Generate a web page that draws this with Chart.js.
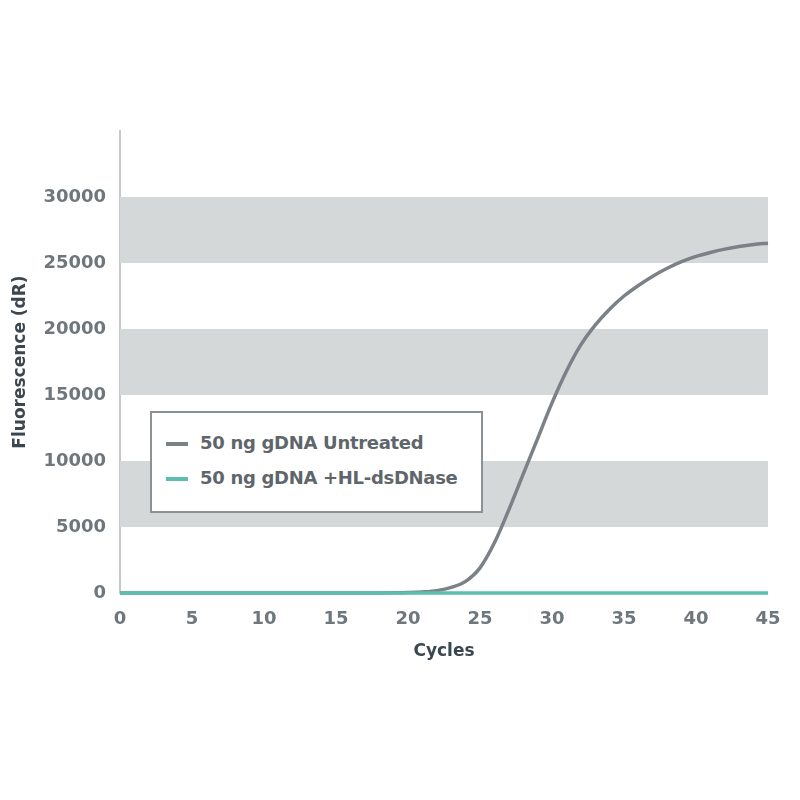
<!DOCTYPE html>
<html>
<head>
<meta charset="utf-8">
<script src="https://cdn.jsdelivr.net/npm/chart.js@4"></script>
<style>
    html, body { margin: 0; padding: 0; background: #ffffff; }
    #wrap { position: relative; width: 800px; height: 800px; }
    #legenda {
        position: absolute; left: 150px; top: 411px; width: 329px; height: 98px;
        border: 2px solid #8c9195; background: #ffffff; box-sizing: content-box;
        font-family: "DejaVu Sans", sans-serif; font-weight: bold; font-size: 18px;
        color: #5f666b; letter-spacing: -0.3px;
    }
    .voce { position: absolute; left: 14px; height: 20px; line-height: 20px; white-space: nowrap; }
    .voce span.campione { display: inline-block; width: 22px; height: 4px; vertical-align: middle; margin-right: 12px; }
</style>
</head>
<body>
<div id="wrap">
    <canvas id="myChart" width="800" height="800"></canvas>
    <div id="legenda"></div>
</div>
<script>
"use strict"

// dati
const cicli = [];
for (let i = 0; i <= 45; i++) cicli.push(i);

const untreated = [
    0, 0, 0, 0, 0, 0, 0, 0, 0, 0,
    0, 0, 0, 0, 0, 0, 0, 0, 0, 10,
    30, 80, 180, 420, 880, 1900, 3800, 6300, 9000, 11700,
    14400, 16800, 18800, 20300, 21500, 22500, 23300, 24000, 24600, 25100,
    25500, 25800, 26050, 26250, 26400, 26500
];
const trattato = [
    0, 0, 0, 0, 0, 0, 0, 0, 0, 0,
    0, 0, 0, 0, 0, 0, 0, 0, 0, 0,
    0, 0, 0, 0, 0, 0, 0, 0, 0, 0,
    0, 0, 0, 0, 0, 0, 0, 0, 0, 0,
    0, 0, 0, 0, 0, 0
];
const etichette = ["50 ng gDNA Untreated", "50 ng gDNA +HL-dsDNase"];
const colori = ["#7b8187", "#5cbfae"];
const yTicks = [0, 5000, 10000, 15000, 20000, 25000, 30000];
const xTicks = [0, 5, 10, 15, 20, 25, 30, 35, 40, 45];
const bande = [[5000, 10000], [15000, 20000], [25000, 30000]];

// bande grigie di sfondo
const pluginBande = {
    id: "bande",
    beforeDatasetsDraw(chart) {
        const ctx = chart.ctx;
        const area = chart.chartArea;
        const y = chart.scales.y;
        ctx.save();
        ctx.fillStyle = "#d5d8d9";
        bande.forEach(function (b) {
            const top = y.getPixelForValue(b[1]);
            const bot = y.getPixelForValue(b[0]);
            ctx.fillRect(area.left, top, area.right - area.left, bot - top);
        });
        ctx.restore();
    }
};

const fontTick = { family: "DejaVu Sans", weight: "bold", size: 18 };
const fontTitolo = { family: "DejaVu Sans", weight: "bold", size: 17 };

new Chart(document.getElementById("myChart"), {
    type: "line",
    data: {
        labels: cicli,
        datasets: [{
            label: etichette[0],
            data: untreated,
            borderColor: colori[0],
            borderWidth: 3.5,
            pointRadius: 0,
            cubicInterpolationMode: "monotone",
            clip: 6,
            order: 1
        },
        {
            label: etichette[1],
            data: trattato,
            borderColor: colori[1],
            borderWidth: 3.5,
            pointRadius: 0,
            clip: 6,
            order: 0
        }]
    },
    options: {
        responsive: false,
        animation: false,
        layout: { padding: { top: 131, left: 6, right: 32, bottom: 134 } },
        plugins: { legend: { display: false }, tooltip: { enabled: false } },
        scales: {
            x: {
                type: "linear",
                min: 0,
                max: 45,
                afterBuildTicks(s) { s.ticks = xTicks.map(v => ({ value: v })); },
                afterFit(s) { s.height = 73; },
                grid: { display: false },
                border: { display: false },
                ticks: { color: "#6f777c", font: fontTick, padding: 8 },
                title: { display: true, text: "Cycles", color: "#3a4650", font: fontTitolo, padding: { top: 10 } }
            },
            y: {
                min: 0,
                max: 35000,
                afterBuildTicks(s) { s.ticks = yTicks.map(v => ({ value: v })); },
                afterFit(s) { s.width = 114; },
                grid: { display: false },
                border: { display: true, color: "#c6c8ca", width: 2 },
                ticks: { color: "#6f777c", font: fontTick, padding: 6, callback: v => String(v) },
                title: { display: true, text: "Fluorescence (dR)", color: "#3a4650", font: fontTitolo, padding: { bottom: 4 } }
            }
        }
    },
    plugins: [pluginBande]
});

// legenda html
const _legenda = document.getElementById("legenda");
etichette.forEach(function (t, i) {
    const voce = document.createElement("div");
    voce.className = "voce";
    voce.style.top = (20 + i * 35) + "px";
    voce.innerHTML = '<span class="campione" style="background:' + colori[i] + '"></span>' + t;
    _legenda.appendChild(voce);
});
</script>
</body>
</html>
